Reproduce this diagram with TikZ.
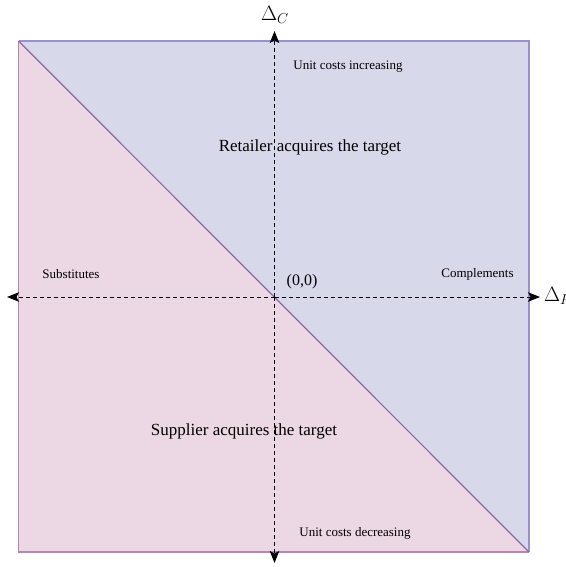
\documentclass[tikz,border=0pt]{standalone}
\usepackage{fontspec}
\setmainfont{Liberation Serif}
\usetikzlibrary{arrows.meta}
\definecolor{bluefill}{HTML}{D8D8EB}
\definecolor{blueedge}{HTML}{9A90CC}
\definecolor{pinkfill}{HTML}{ECD7E4}
\definecolor{pinkedge}{HTML}{B884B4}
\definecolor{diagedge}{HTML}{8C6AA0}
\tikzset{
  axis/.style={dash pattern=on 4pt off 3pt, line width=1pt, -{Stealth[length=12pt,width=9.5pt,inset=2.5pt]}},
  small/.style={font=\fontsize{13}{15}\selectfont, inner sep=0pt},
  big/.style={font=\fontsize{17}{20}\selectfont, inner sep=0pt},
  axlabel/.style={font=\fontsize{20}{24}\selectfont, inner sep=0pt},
}
\begin{document}
\begin{tikzpicture}[x=1pt,y=-1pt]
\useasboundingbox (0,0) rectangle (565,567);
\coordinate (TL) at (18.5,41);
\coordinate (TR) at (529,41);
\coordinate (BL) at (18.5,552);
\coordinate (BR) at (529,552);
\fill[bluefill] (TL) -- (TR) -- (BR) -- cycle;
\fill[pinkfill] (TL) -- (BL) -- (BR) -- cycle;
\draw[blueedge, line width=1.2pt] (TL) -- (TR) -- (BR);
\draw[pinkedge, line width=1.2pt] (TL) -- (BL) -- (BR);
\draw[diagedge, line width=1.2pt] (TL) -- (BR);
\coordinate (O) at (274.5,297);
\coordinate (up) at (274.5,31);
\coordinate (down) at (274.5,563);
\coordinate (left) at (7,297);
\coordinate (right) at (540,297);
\draw[axis] (O) -- (up);
\draw[axis] (O) -- (down);
\draw[axis] (O) -- (left);
\draw[axis] (O) -- (right);
\node[axlabel, anchor=west] (dc) at (261,15) {$\Delta_C$};
\node[axlabel, anchor=west] (dp) at (544,296) {$\Delta_P$};
\node[small] (inc) at (348,67) {Unit costs increasing};
\node[big] (ret) at (310,147) {Retailer acquires the target};
\node[small] (sub) at (71,274) {Substitutes};
\node[small] (com) at (477.5,274) {Complements};
\node[font=\fontsize{16}{19}\selectfont, inner sep=0pt] (orig) at (302,282) {(0,0)};
\node[big] (sup) at (244,431) {Supplier acquires the target};
\node[small] (dec) at (355,533) {Unit costs decreasing};
\end{tikzpicture}
\end{document}
